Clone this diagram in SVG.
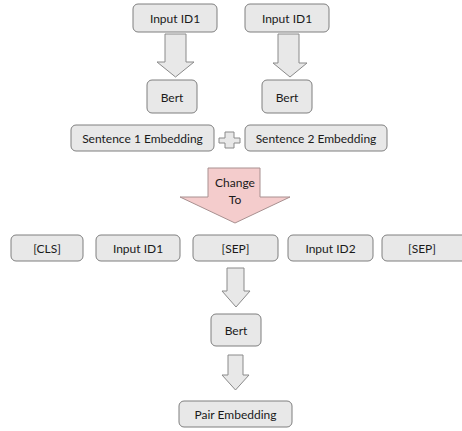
<svg xmlns="http://www.w3.org/2000/svg" width="462" height="431" viewBox="0 0 462 431">
<style>
.box{fill:#e8e8e8;stroke:#7f7f7f;stroke-width:1}
.t{font-family:Lato,"Liberation Sans",sans-serif;font-size:12px;fill:#1a1a1a;text-anchor:middle;dominant-baseline:central}
.arr{fill:#e8e8e8;stroke:#8a8a8a;stroke-width:1;stroke-linejoin:miter}
.pink{fill:#f4cccc;stroke:#a89090;stroke-width:1}
</style>
<rect width="462" height="431" fill="#ffffff"/>
<g id="connectors">
<polygon class="arr" points="165,34 186,34 186,62 194,62 175.5,77 157,62 165,62"/>
<polygon class="arr" points="278,34 299,34 299,63 307,63 290,77 273,63 278,63"/>
<polygon class="arr" points="225,132 234,132 234,138 240,138 240,143 234,143 234,148 225,148 225,143 219,143 219,138 225,138"/>
<polygon class="pink" points="208,168 260,168 260,197 290,197 235,223 180,197 208,197"/>
<polygon class="arr" points="227,268 244,268 244,291 250,291 236,307 222,291 227,291"/>
<polygon class="arr" points="228,355 243,355 243,375 249,375 235.5,390 222,375 228,375"/>
</g>
<g id="change"><text class="t" x="235" y="182">Change</text><text class="t" x="235" y="199">To</text></g>
<g id="in1"><rect class="box" x="133" y="4" width="84" height="28" rx="5"/><text class="t" x="175" y="18">Input ID1</text></g>
<g id="in2"><rect class="box" x="245" y="4" width="84" height="28" rx="5"/><text class="t" x="287" y="18">Input ID1</text></g>
<g id="bert1"><rect class="box" x="147" y="80" width="50" height="33" rx="5"/><text class="t" x="172" y="97">Bert</text></g>
<g id="bert2"><rect class="box" x="262" y="80" width="50" height="33" rx="5"/><text class="t" x="287" y="97">Bert</text></g>
<g id="sent1"><rect class="box" x="71" y="125" width="143" height="26" rx="5"/><text class="t" x="142.5" y="138">Sentence 1 Embedding</text></g>
<g id="sent2"><rect class="box" x="245" y="125" width="142" height="26" rx="5"/><text class="t" x="316" y="138">Sentence 2 Embedding</text></g>
<g id="cls"><rect class="box" x="11" y="235" width="72" height="26" rx="5"/><text class="t" x="47" y="248">[CLS]</text></g>
<g id="tok1"><rect class="box" x="96" y="235" width="84" height="26" rx="5"/><text class="t" x="138" y="248">Input ID1</text></g>
<g id="sep1"><rect class="box" x="193" y="235" width="85" height="26" rx="5"/><text class="t" x="235.5" y="248">[SEP]</text></g>
<g id="tok2"><rect class="box" x="288" y="235" width="85" height="26" rx="5"/><text class="t" x="330.5" y="248">Input ID2</text></g>
<g id="sep2"><rect class="box" x="382" y="235" width="86" height="26" rx="5"/><text class="t" x="422" y="248">[SEP]</text></g>
<g id="bert3"><rect class="box" x="211" y="314" width="50" height="32" rx="5"/><text class="t" x="236" y="330">Bert</text></g>
<g id="pair"><rect class="box" x="179" y="401" width="113" height="26" rx="5"/><text class="t" x="235.5" y="414">Pair Embedding</text></g>
</svg>
